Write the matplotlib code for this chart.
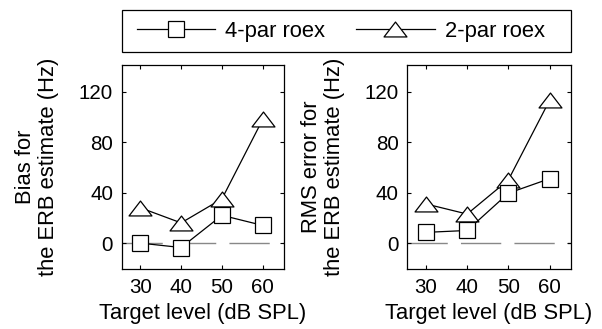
import matplotlib
matplotlib.use("Agg")
import matplotlib.pyplot as plt
from matplotlib.path import Path
from matplotlib.lines import Line2D
from matplotlib.patches import Rectangle

plt.rcParams['font.family'] = ['Liberation Sans', 'DejaVu Sans']
plt.rcParams['lines.scale_dashes'] = False

levels = [30, 40, 50, 60]
bias_4par = [0, -3.5, 22, 14]
bias_2par = [28, 16, 35, 98]
rms_4par = [8.5, 10, 39.5, 51]
rms_2par = [31, 23, 50, 113]
xticks = [30, 40, 50, 60]
yticks = [0, 40, 80, 120]
labels = ['4-par roex', '2-par roex']
ylabels = ['Bias for\nthe ERB estimate (Hz)', 'RMS error for\nthe ERB estimate (Hz)']
xlabel = 'Target level (dB SPL)'

tri = Path([(-1, -0.65), (1, -0.65), (0, 0.65), (-1, -0.65)],
           [Path.MOVETO, Path.LINETO, Path.LINETO, Path.CLOSEPOLY])

FS_TICK = 14.8
FS_LAB = 15.8
W, H = 602, 329
fig = plt.figure(figsize=(W / 100, H / 100), dpi=100)

def axpos(l, r, t, b):
    return [l / W, 1 - b / H, (r - l) / W, (b - t) / H]

panels = [(axpos(121.5, 284, 65, 269), bias_4par, bias_2par, ylabels[0]),
          (axpos(407, 571, 65, 269), rms_4par, rms_2par, ylabels[1])]

sq_kw = dict(marker='s', ms=11, mfc='white', mec='black', mew=0.9,
             color='black', lw=0.9)
tr_kw = dict(marker=tri, ms=16.5, mfc='white', mec='black', mew=0.9,
             color='black', lw=0.9)

for pos, s4, s2, yl in panels:
    ax = fig.add_axes(pos)
    ax.plot([25.4, 65.4], [0, 0], color='#888888', lw=1.0,
            dashes=(29, 9.5), zorder=1)
    ax.plot(levels, s4, zorder=3, **sq_kw)
    ax.plot(levels, s2, zorder=2, **tr_kw)
    ax.set_xlim(25.4, 65.2)
    ax.set_ylim(-20.5, 141)
    ax.set_xticks(xticks)
    ax.set_yticks(yticks)
    ax.tick_params(direction='in', top=True, right=True, length=3,
                   width=0.8, labelsize=FS_TICK)
    ax.tick_params(axis='y', pad=6)
    ax.tick_params(axis='x', pad=6.5)
    for sp in ax.spines.values():
        sp.set_linewidth(0.9)
    ax.set_xlabel(xlabel, fontsize=FS_LAB, labelpad=4)
    ax.set_ylabel(yl, fontsize=FS_LAB, labelpad=14, linespacing=1.15)

# legend frame
x0, x1, y0, y1 = 121.5, 571, 10, 52
fig.patches.append(Rectangle((x0 / W, 1 - y1 / H), (x1 - x0) / W, (y1 - y0) / H,
                             transform=fig.transFigure, fill=False,
                             edgecolor='black', lw=0.9))
handles = [Line2D([], [], **sq_kw), Line2D([], [], **tr_kw)]
leg = fig.legend(handles, labels, loc='center left',
                 bbox_to_anchor=(137 / W, 1 - 31 / H),
                 ncol=2, fontsize=FS_LAB, frameon=False,
                 handlelength=3.56, handletextpad=0.46,
                 columnspacing=1.42, borderpad=0, numpoints=1,
                 borderaxespad=0)

fig.savefig('out.png', dpi=100)
